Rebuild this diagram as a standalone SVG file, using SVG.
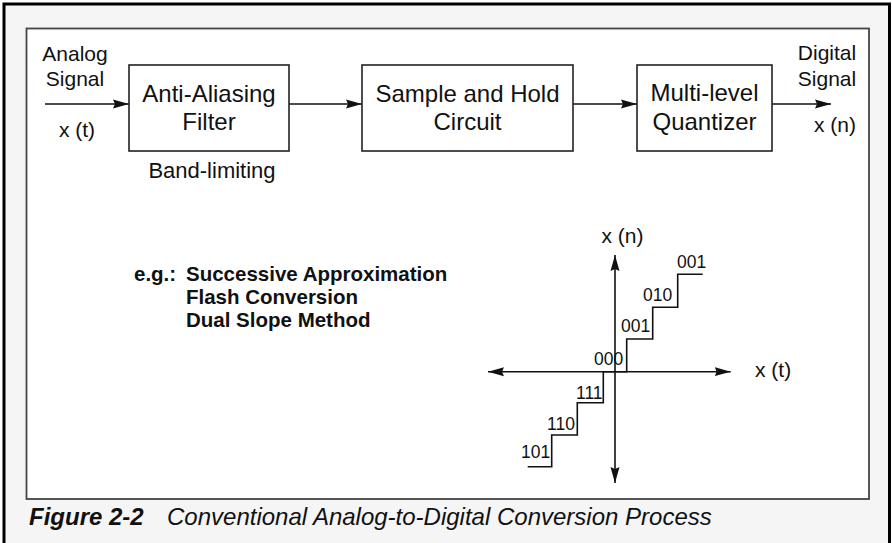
<svg xmlns="http://www.w3.org/2000/svg" width="892" height="543" viewBox="0 0 892 543">
<defs>
<style>
.t{font-family:"Liberation Sans",Arial,sans-serif;fill:#111}
.box{fill:#fff;stroke:#222;stroke-width:1.6}
.lbl{font-size:21px}
.btx{font-size:24px;text-anchor:middle}
.code{font-size:17.5px}
.eg{font-size:20.5px;font-weight:bold}
.ln{stroke:#111;stroke-width:1.6;fill:none}
</style>
<marker id="ah" viewBox="0 0 16 10" refX="16" refY="5" markerWidth="16" markerHeight="10" markerUnits="userSpaceOnUse" orient="auto">
<path d="M0,0.5 L16,5 L0,9.5 L2,5 Z" fill="#111"/>
</marker>
</defs>
<rect x="0" y="0" width="892" height="543" fill="#fff"/>
<rect x="4" y="4" width="885.5" height="545" fill="#f5f5f5" stroke="#000" stroke-width="3"/>
<rect x="26.5" y="28.5" width="842.5" height="470.5" fill="#fff" stroke="#444" stroke-width="1.8"/>

<g id="connectors" class="ln">
<line x1="45" y1="104" x2="129" y2="104" marker-end="url(#ah)"/>
<line x1="289" y1="104" x2="362" y2="104" marker-end="url(#ah)"/>
<line x1="573" y1="104" x2="637" y2="104" marker-end="url(#ah)"/>
<line x1="772" y1="104" x2="831" y2="104" marker-end="url(#ah)"/>
</g>

<g id="input-label" class="t lbl" text-anchor="middle">
<text x="75" y="61">Analog</text>
<text x="75" y="86">Signal</text>
<text x="77" y="137">x (t)</text>
</g>

<g id="anti-aliasing">
<rect class="box" x="129" y="65" width="160" height="86"/>
<text class="t btx" x="209" y="102">Anti-Aliasing</text>
<text class="t btx" x="209" y="130">Filter</text>
<text class="t" x="212" y="178" font-size="22" text-anchor="middle">Band-limiting</text>
</g>

<g id="sample-hold">
<rect class="box" x="362" y="65" width="211" height="86"/>
<text class="t btx" x="467.5" y="102">Sample and Hold</text>
<text class="t btx" x="467.5" y="130">Circuit</text>
</g>

<g id="quantizer">
<rect class="box" x="637" y="65" width="135" height="86"/>
<text class="t btx" x="704.5" y="101">Multi-level</text>
<text class="t btx" x="704.5" y="130">Quantizer</text>
</g>

<g id="output-label" class="t lbl" text-anchor="middle">
<text x="827" y="60">Digital</text>
<text x="827" y="86">Signal</text>
<text x="835" y="132">x (n)</text>
</g>

<g id="examples" class="t eg">
<text x="134" y="281">e.g.:</text>
<text x="186" y="281">Successive Approximation</text>
<text x="186" y="304">Flash Conversion</text>
<text x="186" y="327">Dual Slope Method</text>
</g>

<g id="graph">
<g class="ln">
<line x1="615" y1="371.7" x2="615" y2="255" marker-end="url(#ah)"/>
<line x1="615" y1="371.7" x2="615" y2="483" marker-end="url(#ah)"/>
<line x1="615" y1="371.7" x2="730.7" y2="371.7" marker-end="url(#ah)"/>
<line x1="615" y1="371.7" x2="488" y2="371.7" marker-end="url(#ah)"/>
<path d="M527.7,466.7 H551.7 V435 H577.3 V402.7 H603.3 V371.7 H626.7 V339 H652.7 V307.3 H677.7 V274.3 H702.7"/>
</g>
<text class="t lbl" x="622.5" y="243" text-anchor="middle">x (n)</text>
<text class="t lbl" x="755" y="377">x (t)</text>
<g class="t code">
<text x="677" y="268">001</text>
<text x="643" y="301">010</text>
<text x="621" y="332">001</text>
<text x="594" y="365">000</text>
<text x="576" y="399">111</text>
<text x="547" y="430">110</text>
<text x="521" y="458">101</text>
</g>
</g>

<g id="caption" class="t" font-size="24">
<text x="29" y="525" font-weight="bold" font-style="italic">Figure 2-2</text>
<text x="167" y="525" font-style="italic">Conventional Analog-to-Digital Conversion Process</text>
</g>
</svg>
